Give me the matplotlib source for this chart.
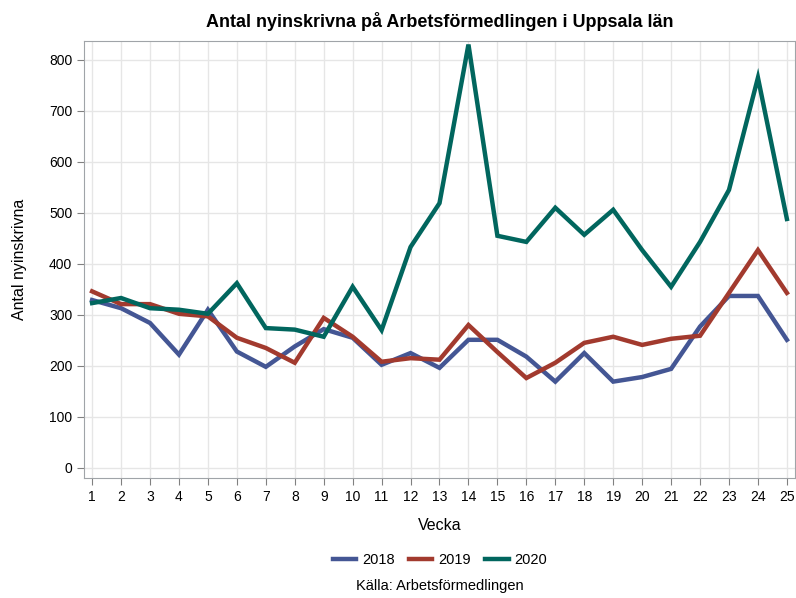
import numpy as np
import matplotlib.pyplot as plt

plt.rcParams['font.family'] = ['Liberation Sans', 'DejaVu Sans']

# weekly values
weeks = list(range(1, 26))
y2018 = [329, 313, 284, 222, 310, 228, 198, 238, 272, 255, 202, 225, 196, 251,
         251, 218, 169, 225, 169, 178, 194, 277, 337, 337, 251]
y2019 = [346, 321, 321, 302, 297, 255, 235, 206, 294, 257, 208, 215, 212, 280,
         227, 176, 206, 245, 257, 241, 253, 259, 343, 427, 343]
y2020 = [323, 333, 313, 310, 302, 362, 274, 271, 257, 355, 270, 433, 519, 830,
         455, 443, 510, 457, 506, 427, 355, 443, 545, 765, 488]

series = [("2018", y2018, "#445694"), ("2019", y2019, "#A23A2E"), ("2020", y2020, "#01665E")]

fig = plt.figure(figsize=(7.96, 5.98), dpi=100)
ax = fig.add_axes([84/796, 1-478/598, 711/796, 437/598])

for name, vals, col in series:
    ax.plot(weeks, vals, color=col, lw=3.2, label=name, solid_joinstyle='miter')

ax.set_xlim(0.72, 25.28)
ax.set_ylim(-20, 837)
ax.set_xticks(weeks)
ax.set_yticks(range(0, 801, 100))
ax.grid(True, color='#e6e6e6', lw=1)
ax.set_axisbelow(True)
for s in ax.spines.values():
    s.set_color('#a0a4a8')
ax.tick_params(colors='#808080', labelcolor='black', labelsize=10, length=5)

ax.set_title("Antal nyinskrivna på Arbetsförmedlingen i Uppsala län",
             fontsize=13, fontweight='bold', pad=10)
ax.set_xlabel("Vecka", fontsize=11.5, labelpad=10)
ax.set_ylabel("Antal nyinskrivna", fontsize=11.5, labelpad=16)

leg = fig.legend(loc='center', bbox_to_anchor=(440/796, 1-560/598), ncol=3,
                 frameon=False, fontsize=10.5, handlelength=1.6, columnspacing=1.0,
                 handletextpad=0.4)
fig.text(440/796, 1-586/598, "Källa: Arbetsförmedlingen", ha='center', va='center', fontsize=10.5)

fig.savefig("out.png", dpi=100)
